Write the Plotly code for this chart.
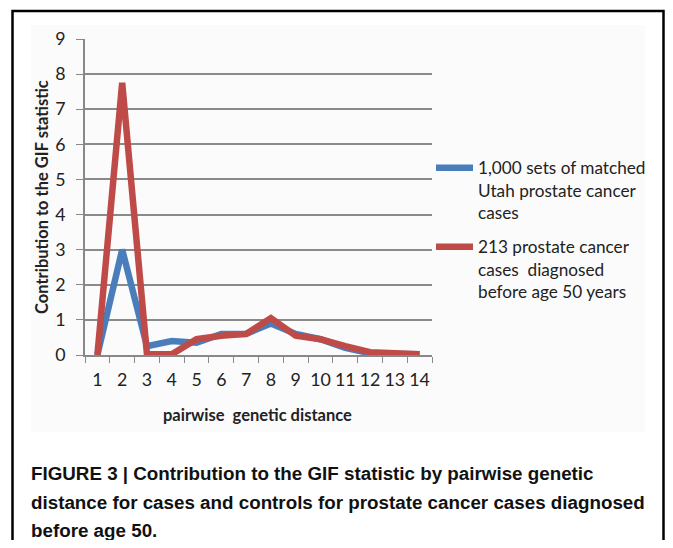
import plotly.graph_objects as go

distance = [str(i) for i in range(1, 15)]
matched_utah = [0.0, 3.0, 0.25, 0.4, 0.35, 0.6, 0.6, 0.9, 0.6, 0.45, 0.2, 0.05, 0.03, 0.02]
early_onset = [0.0, 7.75, 0.02, 0.02, 0.45, 0.55, 0.6, 1.05, 0.55, 0.45, 0.25, 0.08, 0.05, 0.02]
series_names = [
    "1,000 sets of matched<br>Utah prostate cancer<br>cases",
    "213 prostate cancer<br>cases  diagnosed<br>before age 50 years",
]
y_ticks = list(range(0, 10))
caption_lines = [
    "FIGURE 3 | Contribution to the GIF statistic by pairwise genetic",
    "distance for cases and controls for prostate cancer cases diagnosed",
    "before age 50.",
]

# page body has an 8px margin on every side; keep the figure inside the window
OFF = 8
FW, FH = 673 - 2 * OFF, 548 - 2 * OFF
PL, PR, PT, PB = 85, 432, 39, 355  # plot area in reference pixels
PW, PH = PR - PL, PB - PT


def fx(x):
    return (x - PL) / PW


def fy(y):
    return 1 - (y - PT) / PH


fig = go.Figure()
fig.add_trace(go.Scatter(x=distance, y=matched_utah, mode="lines", name=series_names[0],
                         legendgroup="a", line=dict(color="#4A7EBB", width=6.5)))
fig.add_trace(go.Scatter(x=distance, y=early_onset, mode="lines", name=series_names[1],
                         legendgroup="b", line=dict(color="#BE4B48", width=6.5)))

FONT = "Lato, Open Sans, sans-serif"
tick_font = dict(family=FONT, size=17.8, color="#222")

fig.update_layout(
    width=FW, height=FH,
    margin=dict(l=PL - OFF, r=FW - (PR - OFF), t=PT - OFF, b=FH - (PB - OFF), autoexpand=False),
    paper_bgcolor="white",
    plot_bgcolor="rgba(0,0,0,0)",
    showlegend=True,
    legend=dict(
        x=fx(431), xanchor="left",
        y=fy(150), yanchor="top",
        font=dict(family=FONT, size=17.2, color="#222"),
        valign="top", tracegroupgap=9, itemwidth=37,
        bgcolor="rgba(0,0,0,0)",
    ),
    xaxis=dict(
        type="category", tickson="boundaries", ticks="outside", ticklen=6,
        tickcolor="#888", showline=True, linecolor="#888", linewidth=1.5,
        showgrid=False, tickfont=tick_font, range=[-0.5, 13.5], tickangle=0,
        ticklabelstandoff=8,
    ),
    yaxis=dict(
        range=[0, 9], tickvals=y_ticks, ticks="outside", ticklen=7, tickcolor="#888",
        showline=True, linecolor="#888", linewidth=1.5,
        showgrid=True, gridcolor="#8a8a8a", gridwidth=1.5,
        zeroline=False, tickfont=tick_font, ticklabelstandoff=7,
    ),
    shapes=[
        dict(type="rect", xref="paper", yref="paper", layer="below",
             x0=fx(31), x1=fx(645), y0=fy(432), y1=fy(25),
             fillcolor="#fbfbfb", line=dict(width=0)),
        dict(type="path", xref="paper", yref="paper", layer="above",
             path="M {x0},{yb} L {x0},{yt} L {x1},{yt} L {x1},{yb}".format(
                 x0=fx(12.5), x1=fx(663.5), yt=fy(11), yb=fy(560)),
             line=dict(color="black", width=2.5)),
    ],
)

annotations = [
    dict(text="<b>Contribution to the GIF statistic</b>", textangle=-90,
         xref="paper", yref="paper", x=fx(42), y=fy(197),
         xanchor="center", yanchor="middle", showarrow=False,
         font=dict(family=FONT, size=16.5, color="#222")),
    dict(text="<b>pairwise  genetic distance</b>",
         xref="paper", yref="paper", x=fx(257), y=fy(415),
         xanchor="center", yanchor="middle", showarrow=False,
         font=dict(family=FONT, size=16.5, color="#222")),
]
for i, line in enumerate(caption_lines):
    yc = [473, 502, 530][i]
    annotations.append(dict(
        text="<b>" + line + "</b>", xref="paper", yref="paper",
        x=fx(29), y=fy(yc),
        xanchor="left", yanchor="middle", showarrow=False, align="left",
        font=dict(family="Liberation Sans, Arial, sans-serif", size=18.8, color="#111"),
    ))
fig.update_layout(annotations=annotations)

fig.write_html("out.html")
